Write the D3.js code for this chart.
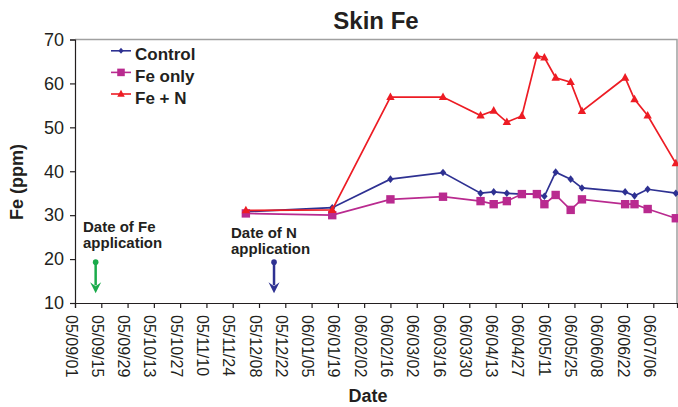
<!DOCTYPE html>
<html><head><meta charset="utf-8">
<script src="https://cdn.jsdelivr.net/npm/d3@7"></script>
<style>
body{margin:0;background:#fff}
svg{display:block}
text{font-family:"Liberation Sans",Arial,Helvetica,sans-serif;fill:#231f20}
</style>
</head><body><svg id="c" width="678" height="407"></svg>
<script>
// ---- data ----
const dates = ["2005-12-01","2006-01-16","2006-02-16","2006-03-16","2006-04-05","2006-04-12","2006-04-19","2006-04-27","2006-05-05","2006-05-09","2006-05-15","2006-05-23","2006-05-29","2006-06-21","2006-06-26","2006-07-03","2006-07-18"];
const control = [30.8, 31.7, 38.2, 39.7, 35.0, 35.3, 35.0, 34.8, 34.8, 34.3, 39.8, 38.2, 36.2, 35.3, 34.4, 35.9, 35.0];
const feOnly  = [30.4, 30.0, 33.6, 34.2, 33.2, 32.5, 33.2, 34.8, 34.8, 32.5, 34.6, 31.2, 33.6, 32.5, 32.5, 31.4, 29.3];
const feN     = [31.1, 31.2, 56.9, 56.9, 52.7, 53.8, 51.2, 52.6, 66.3, 65.9, 61.3, 60.3, 53.7, 61.3, 56.4, 52.7, 41.8];
const seriesNames = ["Control", "Fe only", "Fe + N"];
const tickLabels = ["05/09/01","05/09/15","05/09/29","05/10/13","05/10/27","05/11/10","05/11/24","05/12/08","05/12/22","06/01/05","06/01/19","06/02/02","06/02/16","06/03/02","06/03/16","06/03/30","06/04/13","06/04/27","06/05/11","06/05/25","06/06/08","06/06/22","06/07/06"];
const yTicks = [10, 20, 30, 40, 50, 60, 70];
const annotDates = ["2005-09-12", "2005-12-16"];
const annotLines = [["Date of Fe", "application"], ["Date of N", "application"]];
const annotTop = 19.3, annotTip = 12.2;

// ---- setup ----
const svg = d3.select("#c");
const parseISO = d3.utcParse("%Y-%m-%d");
const parseTick = d3.utcParse("%y/%m/%d");
const fmtTick = d3.utcFormat("%y/%m/%d");
const L = 75, R = 677, T = 39.5, B = 303;

const x = d3.scaleUtc()
  .domain([parseTick(tickLabels[0]), new Date(Date.UTC(2006, 6, 18, 15))])
  .range([L, R]);
const y = d3.scaleLinear().domain([10, 70]).range([B, T]);

const colors = ["#2e3192", "#b92a8f", "#ed1c24"];
const shapes = ["diamond", "square", "triangle"];
const series = [control, feOnly, feN].map((vals, i) => ({
  name: seriesNames[i], color: colors[i], shape: shapes[i],
  pts: vals.map((v, j) => ({d: parseISO(dates[j]), v}))
}));

function markerPath(shape, s) {
  if (shape === "diamond") return `M0,${-3.8*s}L${3.2*s},0L0,${3.8*s}L${-3.2*s},0Z`;
  if (shape === "square") return `M${-4.2*s},${-4.2*s}h${8.4*s}v${8.4*s}h${-8.4*s}Z`;
  return `M0,${-4.6*s}L${4.2*s},${3*s}L${-4.2*s},${3*s}Z`;
}

// plot border (top / right)
svg.append("path").attr("d", `M${L},${T}H${R}V${B}`)
  .attr("fill", "none").attr("stroke", "#a0a0a0").attr("stroke-width", 1.5);

// y axis
const yAxis = svg.append("g").attr("transform", `translate(${L},0)`)
  .call(d3.axisLeft(y).tickValues(yTicks).tickSize(5).tickPadding(6).tickFormat(d3.format("d")));
yAxis.select(".domain").attr("stroke", "#231f20").attr("stroke-width", 1.2);
yAxis.selectAll(".tick line").attr("stroke", "#231f20").attr("stroke-width", 1.2);
yAxis.selectAll("text").style("font-size", "18px").attr("fill", "#231f20");

// x axis
const xAxis = svg.append("g").attr("transform", `translate(0,${B})`)
  .call(d3.axisBottom(x).tickValues(tickLabels.map(parseTick)).tickSize(5).tickFormat(fmtTick));
xAxis.select(".domain").attr("stroke", "#231f20").attr("stroke-width", 1.2);
xAxis.selectAll(".tick line").attr("stroke", "#231f20").attr("stroke-width", 1.2);
xAxis.selectAll("text")
  .attr("x", 0).attr("y", 0).attr("dy", 0)
  .attr("transform", "translate(-10,12) rotate(90)")
  .style("text-anchor", "start").style("font-size", "16px").attr("fill", "#231f20");

// series
const line = d3.line().x(p => x(p.d)).y(p => y(p.v));
series.forEach(s => {
  const g = svg.append("g");
  g.append("path").attr("d", line(s.pts)).attr("fill", "none")
    .attr("stroke", s.color).attr("stroke-width", 1.7);
  g.selectAll("path.m").data(s.pts).join("path").attr("class", "m")
    .attr("transform", p => `translate(${x(p.d)},${y(p.v)})`)
    .attr("d", markerPath(s.shape, 1)).attr("fill", s.color);
});

// legend
const leg = svg.append("g");
series.forEach((s, i) => {
  const yy = 50.8 + i * 21.6;
  leg.append("line").attr("x1", 111).attr("x2", 131).attr("y1", yy).attr("y2", yy)
    .attr("stroke", s.color).attr("stroke-width", 1.6);
  leg.append("path").attr("transform", `translate(121,${yy})`)
    .attr("d", markerPath(s.shape, i === 0 ? 0.8 : 0.9)).attr("fill", s.color);
  leg.append("text").attr("x", 135).attr("y", yy + 9.5).text(s.name)
    .style("font-size", "17px").style("font-weight", "bold");
});

// annotations
const annotColors = ["#1bab4b", "#2e3192"];
const annotTextY = [[232, 248], [238, 254]];
const annotTextX = [83, 231];
annotDates.forEach((ds, i) => {
  const ax = x(parseISO(ds));
  const y0 = y(annotTop), y1 = y(annotTip);
  const c = annotColors[i];
  svg.append("line").attr("x1", ax).attr("x2", ax).attr("y1", y0).attr("y2", y1 - 8)
    .attr("stroke", c).attr("stroke-width", 2.5);
  svg.append("circle").attr("cx", ax).attr("cy", y0).attr("r", 2.8).attr("fill", c);
  svg.append("path").attr("d", `M${ax-5.5},${y1-11}L${ax},${y1}L${ax+5.5},${y1-11}L${ax},${y1-7}Z`).attr("fill", c);
  annotLines[i].forEach((t, k) => {
    svg.append("text").attr("x", annotTextX[i]).attr("y", annotTextY[i][k]).text(t)
      .style("font-size", "15px").style("font-weight", "bold");
  });
});

// titles
svg.append("text").attr("x", 376).attr("y", 29).attr("text-anchor", "middle")
  .text("Skin Fe").style("font-size", "24px").style("font-weight", "bold");
svg.append("text").attr("x", 368).attr("y", 402).attr("text-anchor", "middle")
  .text("Date").style("font-size", "18px").style("font-weight", "bold");
svg.append("text").attr("transform", "translate(23,182) rotate(-90)").attr("text-anchor", "middle")
  .text("Fe (ppm)").style("font-size", "18px").style("font-weight", "bold");
</script>
</body></html>
